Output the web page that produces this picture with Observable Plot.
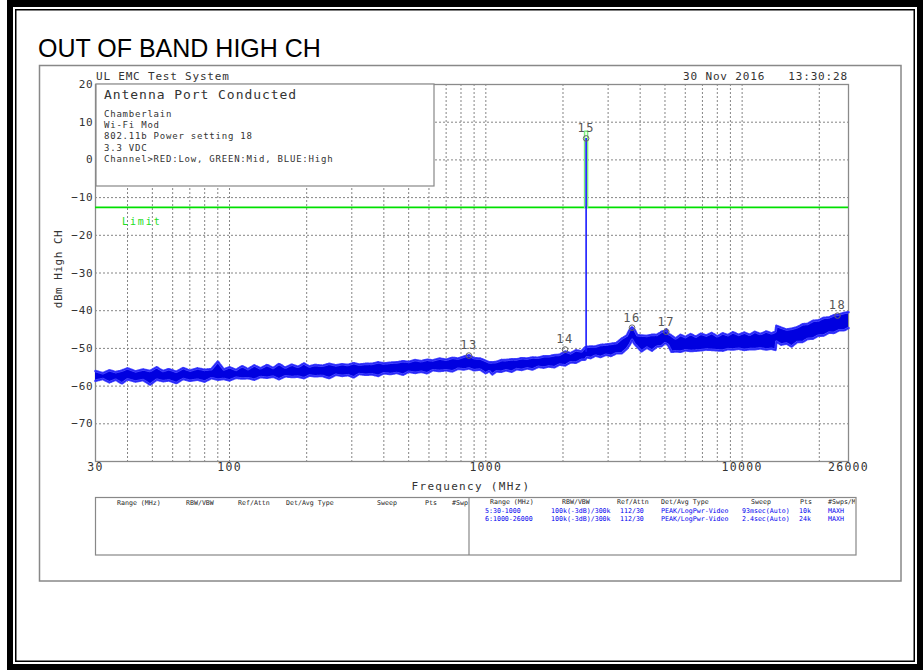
<!DOCTYPE html>
<html><head><meta charset="utf-8">
<script src="https://cdn.jsdelivr.net/npm/d3@7"></script>
<script src="https://cdn.jsdelivr.net/npm/@observablehq/plot@0.6"></script>
<style>
body{margin:0;background:#fff}
#chart{width:923px;height:670px;position:relative;overflow:hidden;background:#fff}
#chart svg{position:absolute;left:0;top:0}
</style>
</head><body><div id="chart"></div>
<script>
// ---- data ----
const traceFreq = [30,32,34,36,38,40,43,46,49,52,55,58,62,66,70,75,80,85,90,95,100,106,112,118,125,132,140,148,156,165,175,185,195,205,215,230,245,260,275,290,305,320,340,360,380,400,425,450,475,500,530,560,590,620,660,700,740,780,820,860,900,950,1000,1030,1060,1100,1150,1200,1260,1320,1380,1450,1520,1600,1680,1760,1850,1940,2040,2140,2250,2360,2440,2480,2560,2680,2800,2940,3080,3230,3390,3550,3650,3720,3800,3900,4050,4250,4450,4650,4850,5000,5060,5150,5300,5500,5750,6000,6300,6600,6900,7250,7600,8000,8400,8800,9200,9700,10200,10700,11200,11800,12400,13000,13500,13600,14200,14900,15600,16400,17200,18000,18900,19800,20800,21800,22800,23900,25000,26000];
const traceLo = [-58.6,-58.1,-59.0,-58.3,-59.3,-58.2,-58.8,-58.4,-59.6,-58.3,-58.7,-58.5,-59.2,-58.1,-58.6,-58.3,-58.8,-57.9,-58.3,-58.1,-58.5,-57.8,-58.0,-57.9,-58.3,-57.6,-57.8,-57.5,-58.2,-57.4,-57.6,-57.5,-57.9,-57.2,-57.4,-57.3,-57.9,-57.0,-57.3,-57.1,-57.7,-56.8,-57.0,-56.9,-57.3,-56.6,-56.8,-56.5,-57.0,-56.2,-56.5,-56.2,-56.6,-55.8,-56.0,-55.8,-56.1,-55.4,-55.6,-55.3,-55.8,-55.6,-56.6,-56.0,-56.9,-56.1,-56.2,-55.8,-56.2,-55.5,-55.7,-55.3,-55.6,-54.9,-55.1,-54.8,-55.0,-54.3,-54.5,-53.7,-53.8,-53.0,-53.0,-52.3,-52.6,-51.9,-52.3,-51.7,-52.0,-51.3,-51.3,-50.1,-48.9,-47.7,-48.8,-49.6,-50.8,-49.8,-50.6,-49.5,-49.4,-48.6,-48.7,-49.2,-50.9,-50.8,-50.9,-50.5,-50.7,-50.6,-50.5,-50.3,-50.4,-50.5,-50.6,-50.2,-50.3,-50.1,-50.4,-50.2,-50.2,-50.0,-50.3,-50.1,-50.4,-48.2,-49.0,-48.7,-49.5,-48.3,-48.3,-47.5,-47.4,-46.6,-46.6,-45.8,-45.9,-45.2,-45.2,-44.6];
const traceHi = [-56.0,-56.6,-55.8,-56.3,-55.9,-55.3,-56.1,-55.6,-56.0,-55.0,-56.0,-55.5,-56.2,-55.2,-55.9,-55.3,-55.7,-55.5,-53.5,-55.6,-55.0,-55.7,-54.7,-55.5,-54.5,-55.3,-54.4,-55.2,-54.1,-55.1,-54.3,-54.9,-54.0,-54.8,-54.4,-54.6,-54.1,-54.5,-54.2,-54.4,-53.9,-54.3,-54.1,-54.1,-53.7,-54.0,-53.8,-53.7,-53.4,-53.6,-53.1,-53.4,-53.0,-53.2,-52.7,-53.0,-52.5,-52.7,-52.2,-51.8,-52.6,-52.7,-53.3,-53.7,-53.7,-53.6,-53.1,-53.1,-52.9,-52.9,-52.6,-52.7,-52.4,-52.5,-52.1,-52.1,-51.8,-51.7,-50.8,-51.3,-50.5,-50.8,-49.7,-49.6,-49.5,-49.5,-49.1,-49.0,-48.8,-48.6,-47.4,-46.6,-44.9,-44.4,-45.0,-46.5,-46.6,-46.7,-46.4,-46.4,-45.6,-45.4,-44.9,-46.1,-46.6,-47.4,-46.4,-47.0,-46.2,-46.9,-46.1,-46.6,-45.9,-46.8,-46.0,-46.5,-45.7,-46.4,-45.8,-46.4,-45.6,-46.2,-45.5,-46.0,-45.6,-44.0,-44.5,-45.0,-44.8,-44.4,-43.6,-43.5,-42.7,-42.6,-41.9,-41.8,-41.2,-41.0,-40.6,-40.4];
const spikeFreq = 2462, spikeBase = -51, spikeTop = 5.7;
const greenFreq = [2428, 2428, 2495, 2495];
const greenDb = [-12.6, 7.6, 7.6, -12.6];
const limitDb = -12.6;
const markerId = ["13","14","15","16","17","18"];
const markerFreq = [859, 2037, 2462, 3720, 5058, 23550];
const markerDb = [-51.9, -50.3, 5.7, -44.5, -45.6, -41.3];
const xTicks = [30, 100, 1000, 10000, 26000];
const xGrid = [40,50,60,70,80,90,100,200,300,400,500,600,700,800,900,1000,2000,3000,4000,5000,6000,7000,8000,9000,10000,20000];
const yTicks = [20,10,0,-10,-20,-30,-40,-50,-60,-70];
const yGrid = [10,0,-10,-20,-30,-40,-50,-60,-70];
const infoLines = ["Chamberlain","Wi-Fi Mod","802.11b Power setting 18","3.3 VDC","Channel>RED:Low, GREEN:Mid, BLUE:High"];
const tableHeaders = ["Range (MHz)","RBW/VBW","Ref/Attn","Det/Avg Type","Sweep","Pts","#Swps/Max"];
const tableRows = [
  ["5:30-1000","100k(-3dB)/300k","112/30","PEAK/LogPwr-Video","93msec(Auto)","10k","MAXH"],
  ["6:1000-26000","100k(-3dB)/300k","112/30","PEAK/LogPwr-Video","2.4sec(Auto)","24k","MAXH"]
];

// ---- build tables for the library ----
const trace = traceFreq.map((f, i) => ({f, lo: traceLo[i], hi: traceHi[i]}));
const green = greenFreq.map((f, i) => ({f, v: greenDb[i]}));
const markers = markerId.map((id, i) => ({id, f: markerFreq[i], v: markerDb[i]}));

const mono = "'DejaVu Sans Mono','Liberation Mono',monospace";

const svg = Plot.plot({
  width: 923, height: 670,
  marginLeft: 95, marginRight: 75, marginTop: 84, marginBottom: 209,
  style: {background: "white", fontFamily: mono},
  x: {type: "log", domain: [30, 26000]},
  y: {domain: [-80, 20]},
  marks: [
    Plot.gridX(xGrid, {stroke: "#858585", strokeOpacity: 1, strokeDasharray: "2,2"}),
    Plot.gridY(yGrid, {stroke: "#858585", strokeOpacity: 1, strokeDasharray: "2,2"}),
    Plot.frame({stroke: "#8a8a8a", strokeWidth: 1.3}),
    Plot.ruleY([limitDb], {stroke: "#00e000", strokeWidth: 1.6}),
    Plot.line(green, {x: "f", y: "v", stroke: "#7cee7c", strokeWidth: 1.5}),
    Plot.areaY(trace, {x: "f", y1: "lo", y2: "hi", fill: "#0000e0"}),
    Plot.line(trace, {x: "f", y: "hi", stroke: "#4646ff", strokeWidth: 2.6, strokeDasharray: "0.7,0.9,1.2,0.6,0.5,1.4"}),
    Plot.line(trace, {x: "f", y: "lo", stroke: "#4646ff", strokeWidth: 2.6, strokeDasharray: "0.6,1.3,1.0,0.7,0.8,1.1"}),
    Plot.line(trace, {x: "f", y: "hi", stroke: "#1414f0", strokeWidth: 0.7}),
    Plot.line(trace, {x: "f", y: "lo", stroke: "#1414f0", strokeWidth: 0.7}),
    Plot.ruleX([spikeFreq], {y1: spikeBase, y2: spikeTop, stroke: "#1a1aff", strokeWidth: 1.6}),
    Plot.dot(markers, {x: "f", y: "v", r: 2.8, stroke: "#666", fill: "none", strokeWidth: 1}),
    Plot.text(markers, {x: "f", y: "v", text: "id", dy: -10, fontSize: 12, fill: "#555", fontFamily: mono}),
    Plot.axisY(yTicks, {tickSize: 0, tickPadding: 2, fontSize: 11, fill: "#333", label: null, fontFamily: mono}),
    Plot.axisX(xTicks, {tickSize: 0, tickPadding: 1, fontSize: 11.5, fill: "#333", label: null, fontFamily: mono, tickFormat: d => String(d)})
  ]
});
document.getElementById("chart").append(svg);

const s = d3.select(svg);
s.selectAll('g[aria-label="x-axis tick label"] text').attr("letter-spacing", "1.3");
s.selectAll('g[aria-label="y-axis tick label"] text').attr("letter-spacing", "0.8");
s.selectAll('g[aria-label="text"] text').attr("letter-spacing", "1.5");

const ov = s.append("g").attr("font-family", mono).attr("text-anchor", "start");

// page borders
ov.append("path").attr("fill", "#000").attr("fill-rule", "evenodd")
  .attr("d", "M7,0H923V670H7Z M13,7V664H917V7Z");
ov.append("rect").attr("x", 15.75).attr("y", 9.75).attr("width", 898.5).attr("height", 651.5)
  .attr("fill", "none").attr("stroke", "#000").attr("stroke-width", 1.5);
// gray frame
ov.append("rect").attr("x", 39.5).attr("y", 65.5).attr("width", 861.5).attr("height", 515.5)
  .attr("fill", "none").attr("stroke", "#888").attr("stroke-width", 1.5);

// title
ov.append("text").attr("x", 38).attr("y", 57).attr("font-family", "'Liberation Sans',Arial,sans-serif")
  .attr("font-size", 25).attr("fill", "#000").text("OUT OF BAND HIGH CH");

// header texts
ov.append("text").attr("x", 96).attr("y", 80).attr("font-size", 11).attr("letter-spacing", 0.8)
  .attr("fill", "#333").text("UL EMC Test System");
ov.append("text").attr("x", 683).attr("y", 80).attr("font-size", 11).attr("letter-spacing", 0.85)
  .attr("fill", "#333").text("30 Nov 2016");
ov.append("text").attr("x", 848).attr("y", 80).attr("text-anchor", "end").attr("font-size", 11).attr("letter-spacing", 0.85)
  .attr("fill", "#333").text("13:30:28");

// annotation box
ov.append("rect").attr("x", 96).attr("y", 84).attr("width", 338).attr("height", 102)
  .attr("fill", "#fff").attr("stroke", "#888").attr("stroke-width", 1.2);
ov.append("text").attr("x", 104).attr("y", 99).attr("font-size", 13).attr("letter-spacing", 0.95)
  .attr("fill", "#333").text("Antenna Port Conducted");
ov.selectAll("text.info").data(infoLines).join("text").attr("class", "info")
  .attr("x", 104).attr("y", (d, i) => 117 + i * 11.2).attr("font-size", 9).attr("letter-spacing", 0.78)
  .attr("fill", "#333").text(d => d);

// limit label
ov.append("text").attr("x", 122).attr("y", 225).attr("font-size", 10).attr("letter-spacing", 1.9)
  .attr("fill", "#22dd22").text("Limit");

// axis titles
ov.append("text").attr("transform", "translate(62,269) rotate(-90)").attr("text-anchor", "middle")
  .attr("font-size", 11).attr("letter-spacing", 0.5).attr("fill", "#333").text("dBm High CH");
ov.append("text").attr("x", 471).attr("y", 490).attr("text-anchor", "middle")
  .attr("font-size", 11).attr("letter-spacing", 1.3).attr("fill", "#333").text("Frequency (MHz)");

// settings table
ov.append("rect").attr("x", 95.5).attr("y", 497.5).attr("width", 760.5).attr("height", 57.5)
  .attr("fill", "#fff").attr("stroke", "#888").attr("stroke-width", 1.2);
ov.append("line").attr("x1", 469).attr("x2", 469).attr("y1", 497.5).attr("y2", 555)
  .attr("stroke", "#888").attr("stroke-width", 1.2);
const defs = s.append("defs");
defs.append("clipPath").attr("id", "clipL").append("rect").attr("x", 96).attr("y", 497).attr("width", 372).attr("height", 58);
defs.append("clipPath").attr("id", "clipR").append("rect").attr("x", 470).attr("y", 497).attr("width", 385).attr("height", 58);
const colL = [117, 186, 238, 286, 377, 425, 452];
const colHR = [490, 562, 617, 661, 751, 800, 828];
const colVR = [485, 551, 620, 661, 742, 799, 828];
const gL = ov.append("g").attr("clip-path", "url(#clipL)").attr("font-size", 6.6).attr("fill", "#222");
gL.selectAll("text").data(tableHeaders).join("text").attr("x", (d, i) => colL[i]).attr("y", 505).text(d => d);
const gR = ov.append("g").attr("clip-path", "url(#clipR)").attr("font-size", 6.6);
gR.selectAll("text.h").data(tableHeaders).join("text").attr("class", "h").attr("fill", "#222")
  .attr("x", (d, i) => colHR[i]).attr("y", 504).text(d => d);
tableRows.forEach((row, r) => {
  gR.selectAll("text.r" + r).data(row).join("text").attr("class", "r" + r).attr("fill", "#0000ee")
    .attr("x", (d, i) => colVR[i]).attr("y", 513 + r * 8).text(d => d);
});
</script>
</body></html>
